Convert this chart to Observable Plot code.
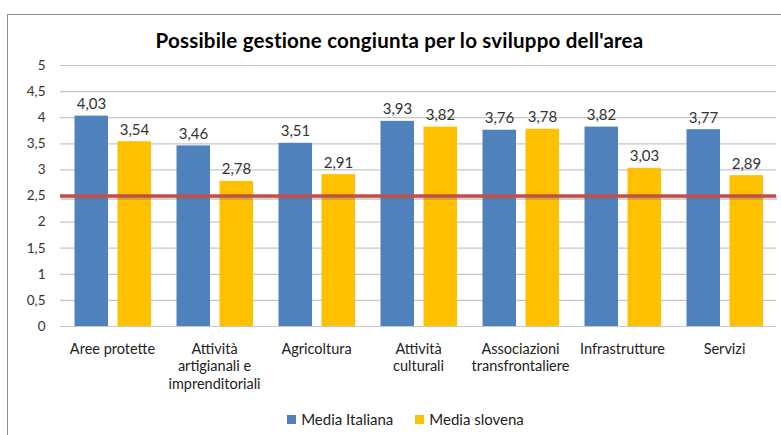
<!DOCTYPE html>
<html>
<head>
<meta charset="utf-8">
<script src="https://cdn.jsdelivr.net/npm/d3@7"></script>
<script src="https://cdn.jsdelivr.net/npm/@observablehq/plot@0.6"></script>
<style>
  html, body { margin: 0; padding: 0; background: #fff; }
  body { width: 781px; height: 435px; overflow: hidden; position: relative; font-family: Lato, "Open Sans", sans-serif; }
  #frame { position: absolute; left: 7px; top: 14px; width: 800px; height: 440px;
           border-left: 1px solid #8c8c8c; border-top: 1px solid #8c8c8c; }
  #title { position: relative; height: 55px; text-align: center; font-weight: bold; font-size: 20.5px; color: #000;
           padding-left: 18px; box-sizing: border-box; padding-top: 26px; line-height: 28px; letter-spacing: 0.2px; }
  #chart { position: relative; }
  #legend { position: relative; display: flex; justify-content: center; gap: 22px; font-size: 15px; color: #222;
            margin-top: 0; padding-left: 30px; }
  #legend span { display: inline-flex; align-items: center; gap: 5px; }
  #legend i { display: inline-block; width: 9px; height: 9px; }
</style>
</head>
<body>
<div id="frame"></div>
<div id="title">Possibile gestione congiunta per lo sviluppo dell'area</div>
<div id="chart"></div>
<div id="legend"></div>
<script>
// Areas of possible joint management, mean scores by group
const categories = ["Aree protette", "Attività artigianali e imprenditoriali", "Agricoltura",
  "Attività culturali", "Associazioni transfrontaliere", "Infrastrutture", "Servizi"];
const categoryLabels = ["Aree protette", "Attività\nartigianali e\nimprenditoriali", "Agricoltura",
  "Attività\nculturali", "Associazioni\ntransfrontaliere", "Infrastrutture", "Servizi"];
const mediaItaliana = [4.03, 3.46, 3.51, 3.93, 3.76, 3.82, 3.77];
const mediaSlovena = [3.54, 2.78, 2.91, 3.82, 3.78, 3.03, 2.89];
const seriesNames = ["Media Italiana", "Media slovena"];
const seriesColors = ["#4f81bd", "#ffc000"];
const yTicks = [0, 0.5, 1, 1.5, 2, 2.5, 3, 3.5, 4, 4.5, 5];
const referenceValue = 2.5;

const ita = categories.map((c, i) => ({category: c, value: mediaItaliana[i]}));
const slo = categories.map((c, i) => ({category: c, value: mediaSlovena[i]}));
const labelOf = new Map(categories.map((c, i) => [c, categoryLabels[i]]));
const comma = d => String(d).replace(".", ",");
const fmt2 = d => d.toFixed(2).replace(".", ",");

const chart = Plot.plot({
  width: 781,
  height: 355,
  marginLeft: 60,
  marginRight: 5,
  marginTop: 10,
  marginBottom: 84,
  style: {fontFamily: "Lato, 'Open Sans', sans-serif", fontSize: "13.5px", color: "#333", background: "transparent"},
  x: {domain: categories, padding: 0, axis: null},
  y: {domain: [0, 5], ticks: yTicks, tickFormat: comma, tickSize: 0, tickPadding: 15, label: null},
  marks: [
    Plot.ruleY(yTicks, {stroke: "#c6c6c6", strokeWidth: 1.2}),
    Plot.barY(ita, {x: "category", y: "value", fill: seriesColors[0], insetLeft: 13.5, insetRight: 55}),
    Plot.barY(slo, {x: "category", y: "value", fill: seriesColors[1], insetLeft: 56.5, insetRight: 12}),
    Plot.text(ita, {x: "category", y: "value", text: d => fmt2(d.value), dx: -21, dy: -7,
      lineAnchor: "bottom", fontSize: 15, fill: "#333"}),
    Plot.text(slo, {x: "category", y: "value", text: d => fmt2(d.value), dx: 22, dy: -7,
      lineAnchor: "bottom", fontSize: 15, fill: "#333"}),
    // shaded reference line at the scale midpoint
    Plot.ruleY([referenceValue], {stroke: "#6f6f6f", strokeOpacity: 0.3, strokeWidth: 4, dy: 2, dx: 1}),
    Plot.ruleY([referenceValue], {stroke: "#c0504d", strokeWidth: 3.5}),
    Plot.text(categories, {x: d => d, frameAnchor: "bottom", text: d => labelOf.get(d), lineAnchor: "top",
      dy: 15, fontSize: 14.5, lineHeight: 1.2, fill: "#222"})
  ]
});
document.getElementById("chart").appendChild(chart);

const legend = document.getElementById("legend");
seriesNames.forEach((name, i) => {
  const s = document.createElement("span");
  const sw = document.createElement("i");
  sw.style.background = seriesColors[i];
  s.appendChild(sw);
  s.appendChild(document.createTextNode(name));
  legend.appendChild(s);
});
</script>
</body>
</html>
